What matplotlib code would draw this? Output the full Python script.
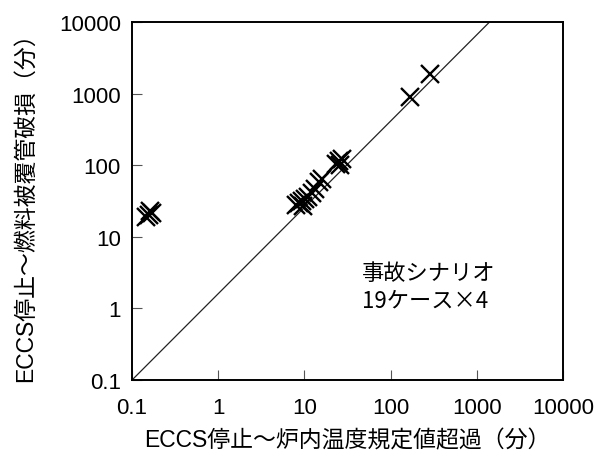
import matplotlib
matplotlib.use("Agg")
import matplotlib.pyplot as plt
from matplotlib.ticker import NullLocator, FixedLocator, FixedFormatter

plt.rcParams["font.family"] = ["Liberation Sans", "Noto Sans CJK JP"]

# ECCS停止～炉内温度規定値超過 (分) vs ECCS停止～燃料被覆管破損 (分)
core_temp_min = [0.145, 0.157, 0.162, 0.170,
                 8.0, 8.6, 9.3, 9.6, 10.1, 10.9, 12.2, 13.2,
                 14.7, 15.9, 23.1, 25.0, 25.7, 27.1,
                 166, 284]
clad_fail_min = [18.9, 20.1, 22.9, 21.5,
                 27.8, 29.7, 31.7, 27.0, 33.9, 36.3, 40.9, 46.6,
                 58.2, 64.0, 104, 114.6, 100.7, 122,
                 897, 1879]

# reference diagonal
diag_x = [0.1, 1406]
diag_y = [0.1, 10000]

ticks = [0.1, 1, 10, 100, 1000, 10000]
tick_labels = ["0.1", "1", "10", "100", "1000", "10000"]

fig = plt.figure(figsize=(6.07, 4.6), dpi=100)
ax = fig.add_axes([0.2175, 0.1717, 0.71, 0.7783])

ax.plot(diag_x, diag_y, color="#222222", linewidth=0.9)
ax.plot(core_temp_min, clad_fail_min, linestyle="none", marker="x",
        markersize=13, markeredgewidth=1.7, color="black")

ax.set_xscale("log")
ax.set_yscale("log")
ax.set_xlim(0.1, 10000)
ax.set_ylim(0.1, 10000)

for axis in (ax.xaxis, ax.yaxis):
    axis.set_major_locator(FixedLocator(ticks))
    axis.set_major_formatter(FixedFormatter(tick_labels))
    axis.set_minor_locator(NullLocator())

ax.tick_params(direction="in", length=7, width=0.8, color="#555555",
               labelsize=16, top=False, right=False)
ax.tick_params(axis="x", pad=12)
ax.tick_params(axis="y", pad=8)
for spine in ax.spines.values():
    spine.set_linewidth(1.4)

ax.set_xlabel("ECCS停止～炉内温度規定値超過（分）", fontsize=16.5, labelpad=8)
ax.set_ylabel("ECCS停止～燃料被覆管破損（分）", fontsize=16.5, labelpad=16)

ax.text(0.534, 0.262, "事故シナリオ\n19ケース×4", transform=ax.transAxes,
        fontsize=16, linespacing=1.25, va="center", ha="left",
        family=["Noto Sans CJK JP", "Liberation Sans"])

fig.savefig("out.png", dpi=100)
plt.close(fig)
